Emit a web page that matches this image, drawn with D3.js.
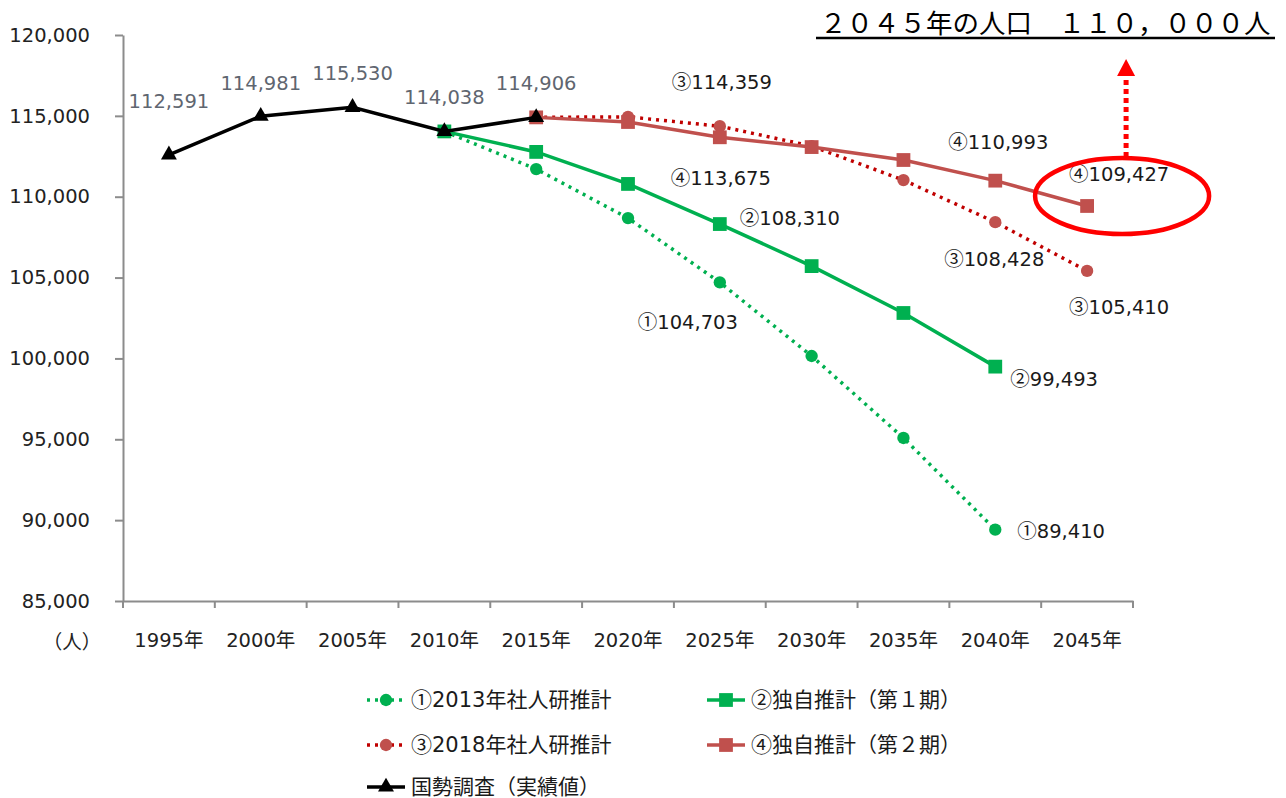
<!DOCTYPE html>
<html>
<head>
<meta charset="utf-8">
<script src="https://cdn.jsdelivr.net/npm/d3@7"></script>
<style>
  body { margin: 0; background: #fff; }
  text { font-family: "DejaVu Sans", "Noto Sans CJK JP", sans-serif; }
</style>
</head>
<body>
<div id="chart-area"></div>
<script>
// data
var years = ['1995', '2000', '2005', '2010', '2015', '2020', '2025', '2030', '2035', '2040', '2045'];
var yTicks = [85000, 90000, 95000, 100000, 105000, 110000, 115000, 120000];

var census = [112591, 114981, 115530, 114038, 114906, null, null, null, null, null, null];
var ipss2013 = [null, null, null, 114038, 111710, 108680, 104703, 100150, 95080, 89410, null];
var own1 = [null, null, null, 114038, 112770, 110790, 108310, 105710, 102810, 99493, null];
var ipss2018 = [null, null, null, null, 114906, 114940, 114359, 113130, 111030, 108428, 105410];
var own2 = [null, null, null, null, 114906, 114620, 113675, 113070, 112270, 110993, 109427];

var seriesMarks = ['①', '②', '③', '④', ''];
var seriesNames = ['2013年社人研推計', '独自推計（第１期）', '2018年社人研推計', '独自推計（第２期）', '国勢調査（実績値）'];

var def = {
    width: 1286,
    height: 798,
    left: 123,
    right: 1133,
    top: 35,
    bottom: 601
}

var svg = d3.select('#chart-area').append('svg')
    .attr('width', def.width)
    .attr('height', def.height);

var x = d3.scaleBand()
    .domain(years)
    .range([def.left, def.right])
    .padding(0);

var y = d3.scaleLinear()
    .domain([85000, 120000])
    .range([def.bottom, def.top]);

var cx = function(yr) { return x(yr) + x.bandwidth() / 2 };

// axes
var yAxis = d3.axisLeft(y)
    .tickValues(yTicks)
    .tickSize(8)
    .tickSizeOuter(0)
    .tickPadding(25)
    .tickFormat(d3.format(','));

var yLeg = svg.append('g')
    .attr('transform', 'translate(' + def.left + ',0)')
    .call(yAxis);
yLeg.select('.domain').attr('stroke', '#8c8c8c').attr('stroke-width', 2);
yLeg.selectAll('.tick line').attr('stroke', '#8c8c8c').attr('stroke-width', 2);
yLeg.selectAll('.tick text')
    .attr('font-size', '19.5px')
    .attr('fill', '#222')
    .style('font-family', '"DejaVu Sans", sans-serif');

var xAxis = d3.axisBottom(x)
    .tickSize(0)
    .tickSizeOuter(0)
    .tickPadding(32)
    .tickFormat(function(d) { return d + '年' });

var xLeg = svg.append('g')
    .attr('transform', 'translate(0,' + def.bottom + ')')
    .call(xAxis);
xLeg.select('.domain').attr('stroke', '#8c8c8c').attr('stroke-width', 2);
xLeg.selectAll('.tick text')
    .attr('font-size', '19.5px')
    .attr('fill', '#222');

// boundary ticks on x axis
xLeg.selectAll('.bound')
    .data(years.concat(['end']))
    .enter().append('line')
    .attr('class', 'bound')
    .attr('x1', function(d) { return d === 'end' ? def.right : x(d) })
    .attr('x2', function(d) { return d === 'end' ? def.right : x(d) })
    .attr('y1', 0)
    .attr('y2', 7)
    .attr('stroke', '#8c8c8c')
    .attr('stroke-width', 2);

svg.append('text')
    .attr('x', 72)
    .attr('y', 649)
    .attr('text-anchor', 'middle')
    .attr('font-size', '19.5px')
    .attr('fill', '#222')
    .text('（人）');

// series
var series = [
    { vals: ipss2013, color: '#00b050', dash: '3,5', marker: 'circle', mcolor: '#00b050' },
    { vals: own1, color: '#00b050', dash: null, marker: 'square', mcolor: '#00b050' },
    { vals: ipss2018, color: '#c00000', dash: '3,5', marker: 'circle', mcolor: '#c0504d' },
    { vals: own2, color: '#c0504d', dash: null, marker: 'square', mcolor: '#c0504d' },
    { vals: census, color: '#000000', dash: null, marker: 'triangle', mcolor: '#000000' }
];

var line = d3.line()
    .defined(function(d) { return d.v !== null })
    .x(function(d) { return cx(d.yr) })
    .y(function(d) { return y(d.v) });

var symbolOf = function(m) {
    if (m === 'circle') return d3.symbol().type(d3.symbolCircle).size(120)();
    if (m === 'square') return d3.symbol().type(d3.symbolSquare).size(190)();
    return d3.symbol().type(d3.symbolTriangle).size(110)();
}

series.forEach(function(s) {
    var pts = years.map(function(yr, i) { return { yr: yr, v: s.vals[i] } });
    svg.append('path')
        .datum(pts)
        .attr('fill', 'none')
        .attr('stroke', s.color)
        .attr('stroke-width', 3.5)
        .attr('stroke-dasharray', s.dash)
        .attr('d', line);
    svg.selectAll(null)
        .data(pts.filter(function(d) { return d.v !== null }))
        .enter().append('path')
        .attr('transform', function(d) { return 'translate(' + cx(d.yr) + ',' + y(d.v) + ')' })
        .attr('d', symbolOf(s.marker))
        .attr('fill', s.mcolor);
});

// data labels
var fmt = d3.format(',');
var labels = [
    { vals: census, idx: [0, 1, 2, 3, 4], pre: '', color: '#5f6670', dx: [0, 0, 0, 0, 0], dy: [-47, -26, -27, -27, -27], anchor: 'middle' },
    { vals: ipss2018, idx: [6], pre: '③', color: '#1a1a1a', dx: [2], dy: [-37], anchor: 'middle' },
    { vals: own2, idx: [6], pre: '④', color: '#1a1a1a', dx: [1], dy: [48], anchor: 'middle' },
    { vals: own1, idx: [6], pre: '②', color: '#1a1a1a', dx: [20], dy: [1], anchor: 'start' },
    { vals: ipss2013, idx: [6], pre: '①', color: '#1a1a1a', dx: [-32], dy: [47], anchor: 'middle' },
    { vals: own2, idx: [9], pre: '④', color: '#1a1a1a', dx: [3], dy: [-32], anchor: 'middle' },
    { vals: own2, idx: [10], pre: '④', color: '#1a1a1a', dx: [-18], dy: [-25], anchor: 'start' },
    { vals: ipss2018, idx: [9], pre: '③', color: '#1a1a1a', dx: [-1], dy: [44], anchor: 'middle' },
    { vals: ipss2018, idx: [10], pre: '③', color: '#1a1a1a', dx: [32], dy: [43], anchor: 'middle' },
    { vals: own1, idx: [9], pre: '②', color: '#1a1a1a', dx: [15], dy: [19], anchor: 'start' },
    { vals: ipss2013, idx: [9], pre: '①', color: '#1a1a1a', dx: [22], dy: [8], anchor: 'start' }
];

labels.forEach(function(l) {
    l.idx.forEach(function(i, k) {
        var t = svg.append('text')
            .attr('x', cx(years[i]) + l.dx[k])
            .attr('y', y(l.vals[i]) + l.dy[k])
            .attr('text-anchor', l.anchor)
            .attr('font-size', '19.5px')
            .attr('fill', l.color);
        if (l.pre) {
            t.append('tspan')
                .style('font-family', '"Noto Sans CJK JP", sans-serif')
                .text(l.pre);
        }
        t.append('tspan').text(fmt(l.vals[i]));
    });
});

// annotation: circle + arrow + headline
var ax = cx('2045');
svg.append('ellipse')
    .attr('cx', ax + 35)
    .attr('cy', 196)
    .attr('rx', 87)
    .attr('ry', 38)
    .attr('fill', 'none')
    .attr('stroke', '#ff0000')
    .attr('stroke-width', 4.5);

svg.append('line')
    .attr('x1', ax + 39).attr('x2', ax + 39)
    .attr('y1', 157).attr('y2', 76)
    .attr('stroke', '#ff0000')
    .attr('stroke-width', 5)
    .attr('stroke-dasharray', '5,4');

svg.append('path')
    .attr('d', 'M' + (ax + 39) + ',59 L' + (ax + 30) + ',76 L' + (ax + 48) + ',76 Z')
    .attr('fill', '#ff0000');

svg.append('text')
    .attr('x', 820)
    .attr('y', 33)
    .attr('font-size', '26.5px')
    .attr('fill', '#000')
    .style('font-family', '"Noto Sans CJK JP", sans-serif')
    .text('２０４５年の人口　１１０，０００人');

svg.append('line')
    .attr('x1', 816).attr('x2', 1275)
    .attr('y1', 38).attr('y2', 38)
    .attr('stroke', '#000')
    .attr('stroke-width', 2.5);

// legend
var legPos = [
    { lx: 367, ly: 700 },
    { lx: 707, ly: 700 },
    { lx: 367, ly: 745 },
    { lx: 707, ly: 745 },
    { lx: 367, ly: 787 }
];

series.forEach(function(s, i) {
    var p = legPos[i];
    var lg = svg.append('g').attr('transform', 'translate(' + p.lx + ',' + p.ly + ')');
    lg.append('line')
        .attr('x1', 0).attr('x2', 38)
        .attr('y1', 0).attr('y2', 0)
        .attr('stroke', s.color)
        .attr('stroke-width', 3.5)
        .attr('stroke-dasharray', s.dash);
    lg.append('path')
        .attr('transform', 'translate(19,0)')
        .attr('d', symbolOf(s.marker))
        .attr('fill', s.mcolor);
    var t = lg.append('text')
        .attr('x', 44)
        .attr('y', 7)
        .attr('font-size', '21px')
        .attr('fill', '#1a1a1a');
    if (seriesMarks[i]) {
        t.append('tspan')
            .style('font-family', '"Noto Sans CJK JP", sans-serif')
            .text(seriesMarks[i]);
    }
    t.append('tspan').text(seriesNames[i]);
});
</script>
</body>
</html>
